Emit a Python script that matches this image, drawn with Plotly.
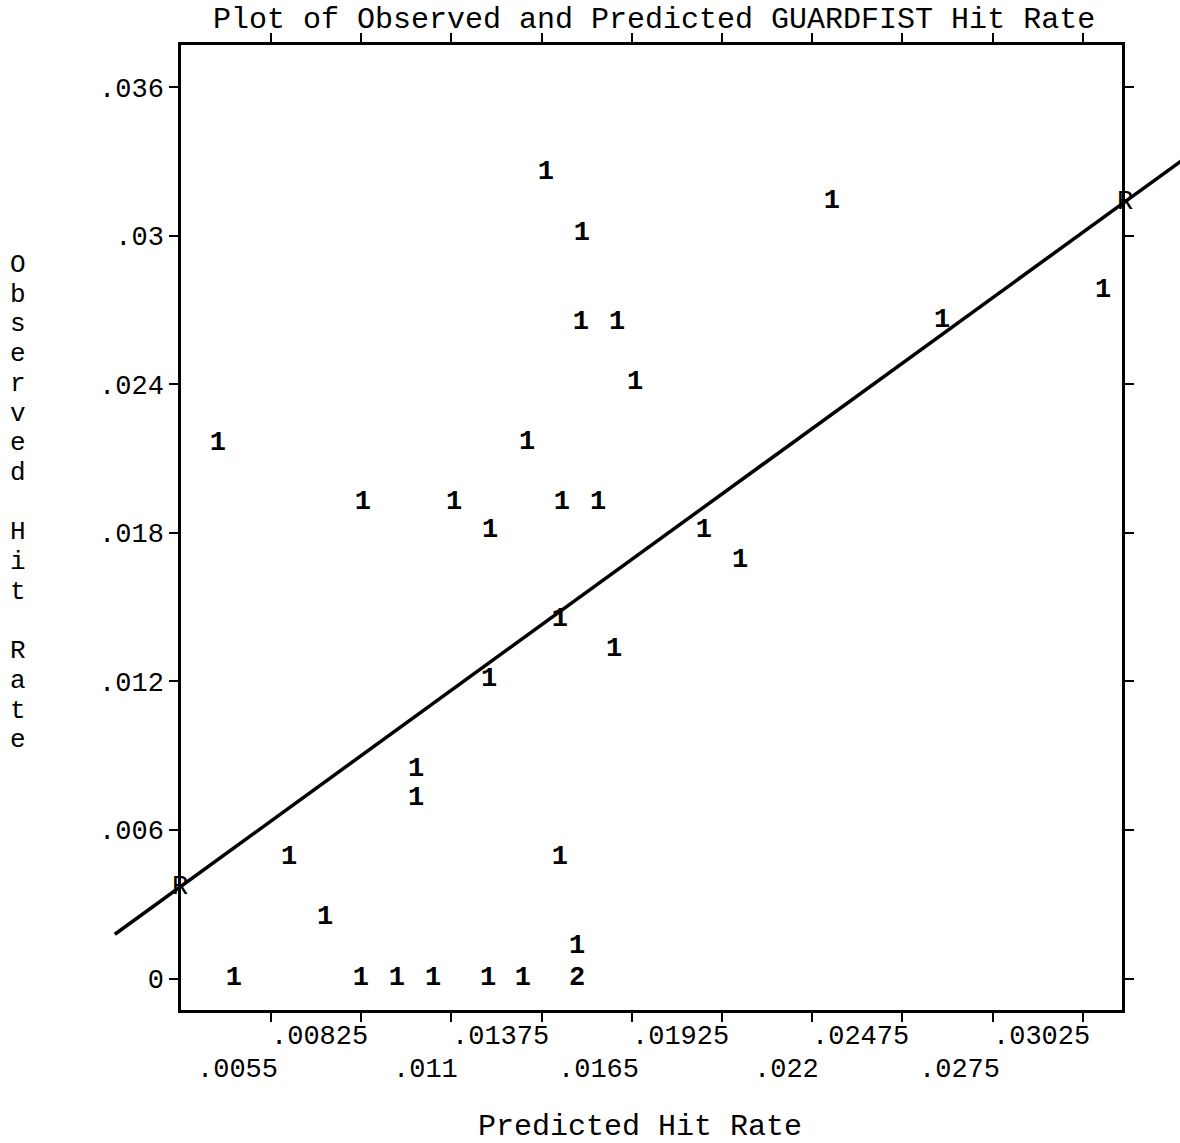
import plotly.graph_objects as go

# ---- data ----
predicted = [0.01388, 0.01498, 0.02260, 0.03087, 0.01495, 0.01605, 0.02596, 0.01660,
             0.00388, 0.01331, 0.00830, 0.01108, 0.01437, 0.01547, 0.01218, 0.01870,
             0.01980, 0.01431, 0.01596, 0.01215, 0.00992, 0.00992, 0.00605, 0.01431,
             0.00715, 0.01483, 0.00437, 0.00824, 0.00934, 0.01044, 0.01212, 0.01318,
             0.01483]
observed = [0.03257, 0.03010, 0.03140, 0.02780, 0.02651, 0.02651, 0.02659, 0.02409,
            0.02162, 0.02167, 0.01924, 0.01924, 0.01924, 0.01924, 0.01811, 0.01811,
            0.01690, 0.01452, 0.01331, 0.01209, 0.00846, 0.00729, 0.00491, 0.00491,
            0.00248, 0.00131, 0.0, 0.0, 0.0, 0.0, 0.0, 0.0,
            0.0]
symbols = ["1"] * 32 + ["2"]

reg_line_x = [0.00074, 0.0334]
reg_line_y = [0.00179, 0.03316]
reg_mark_x = [0.002726, 0.031537]
reg_mark_y = [0.003695, 0.031368]
reg_mark_text = ["R", "R"]

x_tick_vals = [0.0055, 0.00825, 0.011, 0.01375, 0.0165, 0.01925, 0.022, 0.02475, 0.0275, 0.03025]
x_tick_text = [".0055", ".00825", ".011", ".01375", ".0165", ".01925", ".022", ".02475", ".0275", ".03025"]
y_tick_vals = [0, 0.006, 0.012, 0.018, 0.024, 0.03, 0.036]
y_tick_text = ["0", ".006", ".012", ".018", ".024", ".03", ".036"]

title_text = "Plot of Observed and Predicted GUARDFIST Hit Rate"
x_title = "Predicted Hit Rate"
y_title = "Observed Hit Rate"

# ---- layout geometry ----
W, H = 1180, 1143
FONT = "Liberation Mono, Courier New, monospace"
x_dom = [181 / W, 1122 / W]
y_dom = [1 - 1010 / H, 1 - 45 / H]
x_rng = [0.002756, 0.031445]
y_rng = [-0.00127, 0.0377]


def full_range(rng, dom):
    s = (rng[1] - rng[0]) / (dom[1] - dom[0])
    return [rng[0] - dom[0] * s, rng[1] + (1 - dom[1]) * s]


fig = go.Figure()

fig.add_trace(go.Scatter(
    x=predicted, y=observed, mode="text", text=symbols,
    textposition="middle center",
    textfont=dict(family=FONT, size=27, color="black", weight="bold"),
    cliponaxis=False, showlegend=False))

# regression line and its R marks on a full-page subplot with the same scale
# (so the line can run past the frame, as in the reference)
fig.add_trace(go.Scatter(
    x=reg_line_x, y=reg_line_y, mode="lines",
    line=dict(color="black", width=3.5),
    xaxis="x2", yaxis="y2", hoverinfo="skip", showlegend=False))

fig.add_trace(go.Scatter(
    x=reg_mark_x, y=reg_mark_y, mode="text", text=reg_mark_text,
    textposition="middle center",
    textfont=dict(family=FONT, size=27, color="black"),
    xaxis="x2", yaxis="y2", cliponaxis=False, showlegend=False))

axis_common = dict(showgrid=False, zeroline=False, showline=True, linecolor="black",
                   linewidth=2.5, mirror="ticks", ticks="outside", ticklen=9,
                   tickwidth=2, tickcolor="black")

fig.update_layout(
    width=W, height=H, autosize=False,
    margin=dict(l=0, r=0, t=0, b=0),
    paper_bgcolor="white", plot_bgcolor="rgba(0,0,0,0)",
    font=dict(family=FONT, color="black", size=27),
    xaxis=dict(domain=x_dom, range=x_rng, tickvals=x_tick_vals, showticklabels=False,
               anchor="y", **axis_common),
    yaxis=dict(domain=y_dom, range=y_rng, tickvals=y_tick_vals, ticktext=y_tick_text,
               anchor="x", tickfont=dict(family=FONT, size=27, color="black"),
               **axis_common),
    xaxis2=dict(domain=[0, 1], range=full_range(x_rng, x_dom), visible=False,
                anchor="y2", showgrid=False, zeroline=False),
    yaxis2=dict(domain=[0, 1], range=full_range(y_rng, y_dom), visible=False,
                anchor="x2", showgrid=False, zeroline=False),
    showlegend=False,
)

ann = []
for i, (v, t) in enumerate(zip(x_tick_vals, x_tick_text)):
    ypix = 1037 if i % 2 == 1 else 1070
    ann.append(dict(x=v, xref="x", y=1 - ypix / H, yref="paper", text=t,
                    showarrow=False, xanchor="right", yanchor="middle", xshift=9,
                    font=dict(family=FONT, size=27, color="black")))

ann.append(dict(x=654 / W, xref="paper", y=1 - 20 / H, yref="paper", text=title_text,
                showarrow=False, xanchor="center", yanchor="middle",
                font=dict(family=FONT, size=30, color="black")))
ann.append(dict(x=640 / W, xref="paper", y=1 - 1127 / H, yref="paper", text=x_title,
                showarrow=False, xanchor="center", yanchor="middle",
                font=dict(family=FONT, size=30, color="black")))
for k, ch in enumerate(y_title):
    if ch == " ":
        continue
    ann.append(dict(x=18 / W, xref="paper", y=1 - (265 + k * 29.7) / H, yref="paper",
                    text=ch, showarrow=False, xanchor="center", yanchor="middle",
                    font=dict(family=FONT, size=26, color="black")))

fig.update_layout(annotations=ann)

fig.write_html("out.html", config={"displayModeBar": False},
               post_script="document.body.style.margin='0';")
